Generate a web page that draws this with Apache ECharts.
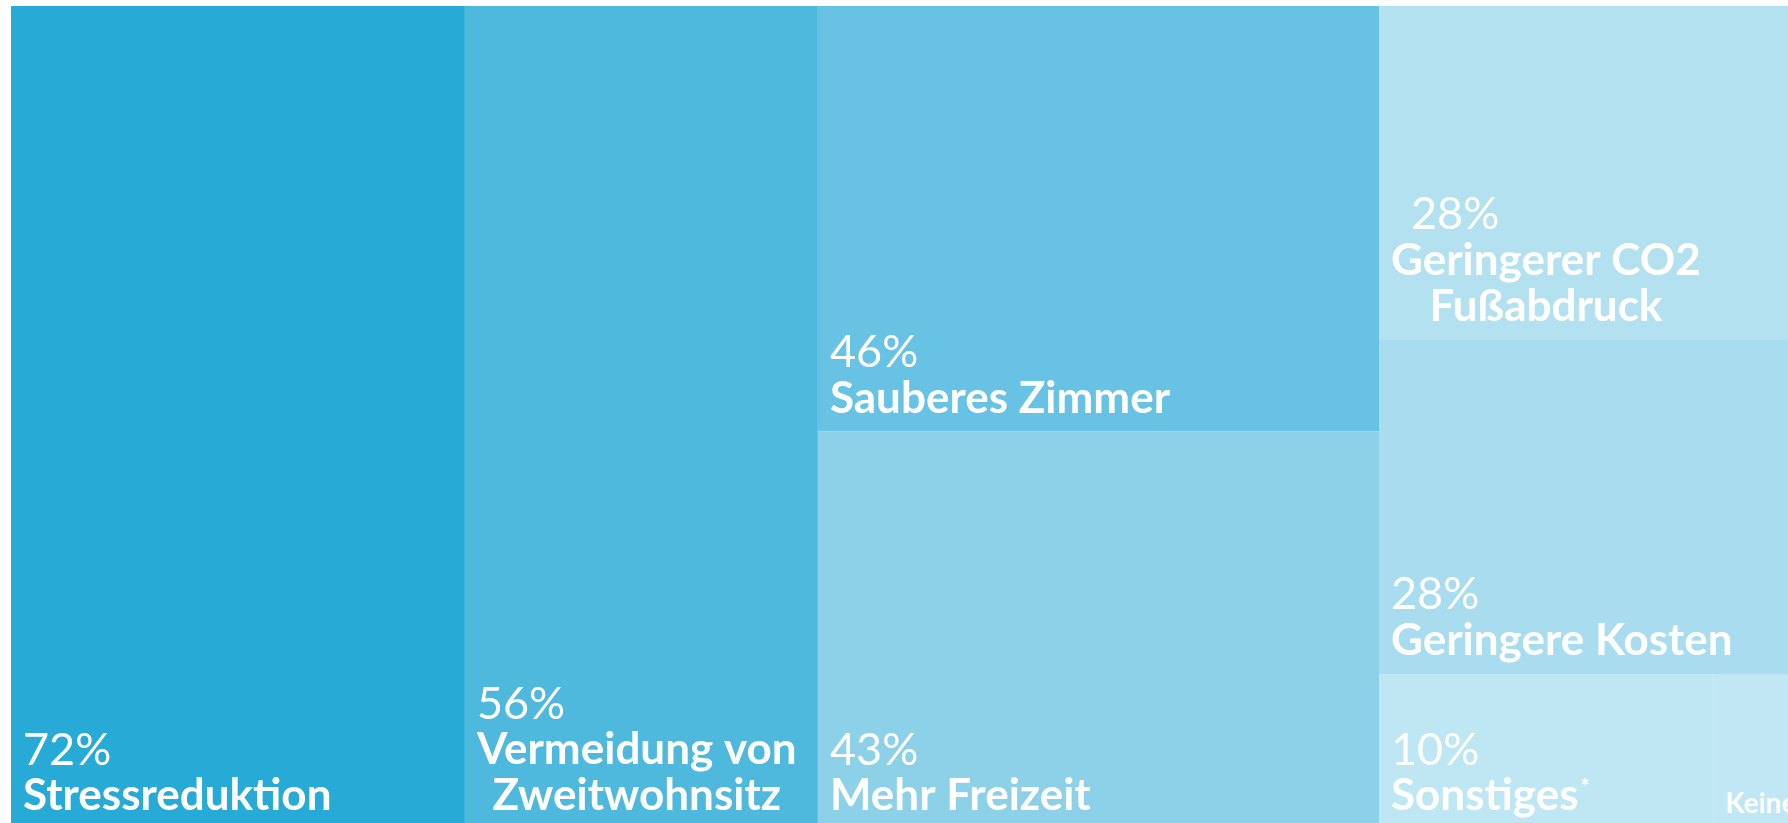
<!DOCTYPE html>
<html>
<head>
<meta charset="utf-8">
<title>Treemap</title>
<script src="https://cdn.jsdelivr.net/npm/echarts@6/dist/echarts.min.js"></script>
<style>
  html, body { margin: 0; padding: 0; background: #fff; }
  #chart { width: 1788px; height: 823px; }
</style>
</head>
<body>
<div id="chart"></div>
<script>
// Werte in Prozent, wie im Bild beschriftet
var names = ['Stressreduktion', 'Vermeidung von\nZweitwohnsitz', 'Sauberes Zimmer', 'Mehr Freizeit',
  'Geringerer CO2\nFußabdruck', 'Geringere Kosten', 'Sonstiges', 'Keine'];
var values = [72, 56, 46, 43, 28, 28, 10, 3];
var marks = ['', '', '', '', '', '', '*', ''];
var colors = ['#27aad6', '#4fb8dd', '#67c2e3', '#8dd1e8', '#b4e1f0', '#a8dcee', '#bee6f3', '#c2e7f4'];

var NAME_FONT = 'bold 44px Lato';
var LINE = 46;
var measureCtx = document.createElement('canvas').getContext('2d');

function textWidth (str) {
  measureCtx.font = NAME_FONT;
  return measureCtx.measureText(str).width;
}

// Label einer Kachel: unten links, Namenszeilen untereinander zentriert
function leafLabel (i, heights) {
  var h = heights[names[i]];
  var isSmall = names[i] === 'Keine';
  var lines = names[i].split('\n');
  var contentH = isSmall ? 30 : (lines.length + 1) * LINE;
  var rich = {};
  var maxW = Math.max.apply(null, lines.map(textWidth));
  lines.forEach(function (l, j) {
    rich['n' + j] = {
      fontFamily: 'Lato', fontSize: 44, fontWeight: 'bold', color: '#fff', lineHeight: LINE,
      padding: [0, 0, 0, (maxW - textWidth(l)) / 2]
    };
  });
  if (names[i].indexOf('CO2') >= 0) {
    rich.p = { fontFamily: 'Lato', fontSize: 45, fontWeight: 'normal', color: '#fff', lineHeight: LINE, padding: [0, 0, 0, 20] };
  }
  return {
    padding: [h ? Math.max(h - 10 - contentH, 0) : 0, 0, 0, 12],
    rich: rich
  };
}

function leaf (i, heights) {
  return {
    name: names[i],
    value: values[i],
    mark: marks[i],
    itemStyle: { color: colors[i] },
    label: leafLabel(i, heights)
  };
}

function buildData (heights) {
  // Gruppen legen die Spalten fest
  return [
    leaf(0, heights),
    leaf(1, heights),
    { name: 'g1', children: [leaf(2, heights), leaf(3, heights)] },
    { name: 'g2', children: [leaf(4, heights), leaf(5, heights),
      { name: 'g3', children: [leaf(6, heights), leaf(7, heights)] }] }
  ];
}

function buildOption (heights) {
  return {
    animation: false,
    series: [
      {
        type: 'treemap',
        left: 11,
        top: 6,
        width: 1803,
        height: 823,
        sort: false,
        squareRatio: 1,
        roam: false,
        nodeClick: false,
        breadcrumb: { show: false },
        itemStyle: { borderWidth: 0, gapWidth: 0 },
        emphasis: { disabled: true },
        label: {
          show: true,
          position: 'insideTopLeft',
          distance: 0,
          padding: 0,
          overflow: 'none',
          fontFamily: 'Lato',
          color: '#fff',
          formatter: function (p) {
            var d = p.data;
            if (d.name === 'Keine') {
              return '{k|' + d.name + '}';
            }
            var s = '{p|' + d.value + '%}';
            d.name.split('\n').forEach(function (l, j) {
              s += '\n{n' + j + '|' + l + '}';
            });
            if (d.mark) s += '{s|' + d.mark + '}';
            return s;
          },
          rich: {
            p: { fontFamily: 'Lato', fontSize: 45, fontWeight: 'normal', color: '#fff', lineHeight: LINE },
            s: { fontFamily: 'Lato', fontSize: 22, fontWeight: 'bold', color: '#fff', lineHeight: 30, verticalAlign: 'top', padding: [4, 0, 0, 2] },
            k: { fontFamily: 'Lato', fontSize: 28, fontWeight: 'bold', color: '#fff', lineHeight: 30 }
          }
        },
        upperLabel: { show: false },
        data: buildData(heights)
      }
    ]
  };
}

var chart = echarts.init(document.getElementById('chart'));
chart.setOption(buildOption({}));

// Kachelhöhen aus dem Layout von ECharts lesen, damit die Labels unten sitzen
var treeData = chart.getModel().getSeriesByIndex(0).getData();
var heights = {};
for (var i = 0; i < treeData.count(); i++) {
  var lay = treeData.getItemLayout(i);
  if (lay) heights[treeData.getName(i)] = lay.height;
}
chart.setOption(buildOption(heights), true);
</script>
</body>
</html>
